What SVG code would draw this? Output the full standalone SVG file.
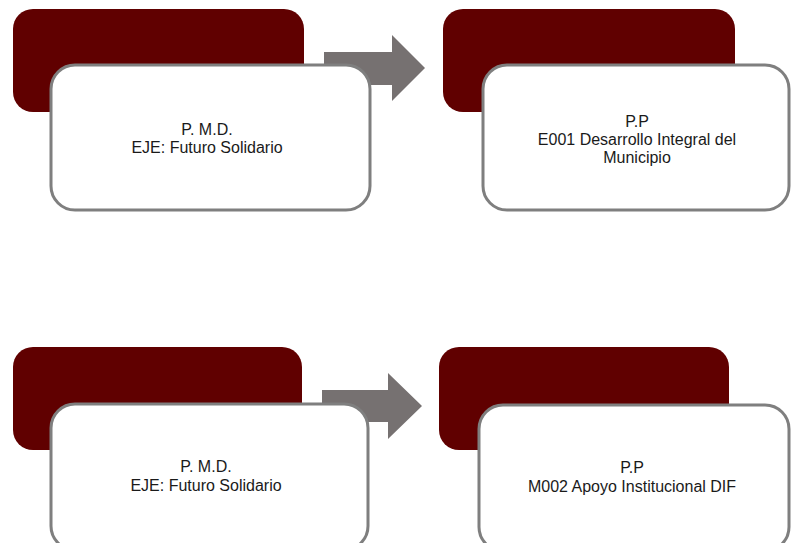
<svg xmlns="http://www.w3.org/2000/svg" width="791" height="543" viewBox="0 0 791 543">
<style>
.back{fill:#600000;}
.front{fill:#ffffff;stroke:#7f7f7f;stroke-width:3;}
.arr{fill:#767171;}
text{font-family:"Liberation Sans",Arial,sans-serif;font-size:16px;fill:#1a1a1a;text-anchor:middle;}
</style>
<rect width="791" height="543" fill="#ffffff"/>
<g id="connectors">
<polygon class="arr" points="324,52 392,52 392,35 425,68 392,101 392,85 324,85"/>
<polygon class="arr" points="322,390 388,390 388,373 422,406 388,439 388,422 322,422"/>
</g>
<g id="node1">
<rect class="back" x="13" y="9" width="291" height="103" rx="20"/>
<rect class="front" x="51" y="65" width="319" height="145" rx="24"/>
<text x="207" y="135">P. M.D.</text>
<text x="207" y="153">EJE: Futuro Solidario</text>
</g>
<g id="node2">
<rect class="back" x="443" y="9" width="292" height="103" rx="20"/>
<rect class="front" x="483" y="65" width="306" height="145" rx="24"/>
<text x="637" y="127">P.P</text>
<text x="637" y="145">E001 Desarrollo Integral del</text>
<text x="637" y="163">Municipio</text>
</g>
<g id="node3">
<rect class="back" x="13" y="347" width="289" height="103" rx="20"/>
<rect class="front" x="51" y="404" width="317" height="146" rx="24"/>
<text x="206" y="472">P. M.D.</text>
<text x="206" y="491">EJE: Futuro Solidario</text>
</g>
<g id="node4">
<rect class="back" x="439" y="347" width="290" height="103" rx="20"/>
<rect class="front" x="479" y="405" width="310" height="146" rx="24"/>
<text x="632" y="473">P.P</text>
<text x="632" y="492">M002 Apoyo Institucional DIF</text>
</g>
</svg>
